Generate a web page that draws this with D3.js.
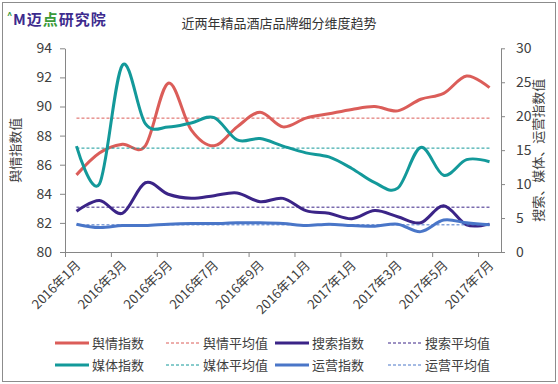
<!DOCTYPE html>
<html>
<head>
<meta charset="utf-8">
<script src="https://cdn.jsdelivr.net/npm/d3@7"></script>
<style>
  body { margin: 0; background: #fff; }
  svg text { font-family: "Noto Sans CJK SC", "Noto Sans", sans-serif; }
</style>
</head>
<body>
<div id="chart"></div>
<script>
// months on the category axis, label shown every other month
const months = [
  "2016年1月", "2016年2月", "2016年3月", "2016年4月", "2016年5月", "2016年6月",
  "2016年7月", "2016年8月", "2016年9月", "2016年10月", "2016年11月", "2016年12月",
  "2017年1月", "2017年2月", "2017年3月", "2017年4月", "2017年5月", "2017年6月",
  "2017年7月",
];

// 舆情 uses the left axis, the rest the right one
const yuqing = [85.3, 86.8, 87.4, 87.3, 91.6, 88.4, 87.3, 88.6, 89.6, 88.6, 89.2, 89.5, 89.8, 90.0, 89.7, 90.5, 90.9, 92.1, 91.3];
const sousuo = [6.0, 7.6, 5.7, 10.2, 8.5, 7.9, 8.3, 8.7, 7.4, 7.9, 6.1, 5.7, 4.9, 6.1, 5.2, 4.3, 6.8, 4.0, 4.1];
const meiti = [15.6, 10.0, 27.5, 18.9, 18.4, 19.0, 19.8, 16.5, 16.7, 15.6, 14.6, 14.0, 12.3, 10.2, 9.4, 15.4, 11.3, 13.6, 13.3];
const yunying = [4.1, 3.6, 3.9, 3.9, 4.1, 4.2, 4.2, 4.3, 4.3, 4.2, 3.9, 4.1, 3.9, 3.8, 4.1, 3.0, 4.7, 4.3, 4.0];

const avgYuqing = 89.2;
const avgSousuo = 6.6;
const avgMeiti = 15.3;
const avgYunying = 4.0;

const leftTicks = [80, 82, 84, 86, 88, 90, 92, 94];
const rightTicks = [0, 5, 10, 15, 20, 25, 30];

const W = 558, H = 384;
const plot = { left: 65, right: 501, top: 48.3, bottom: 252 };
const axisColor = "#868686";
const textColor = "#404040";

const svg = d3.select("#chart").append("svg")
  .attr("width", W).attr("height", H);

// outer frame
svg.append("rect")
  .attr("x", 2.5).attr("y", 2.5)
  .attr("width", W - 5).attr("height", H - 5)
  .attr("fill", "#fff").attr("stroke", "#8c8c8c");

// logo
const logo = svg.append("text")
  .attr("x", 13).attr("y", 25)
  .attr("font-size", 15).attr("font-weight", "bold")
  .attr("letter-spacing", 1)
  .attr("fill", "#3d2b8e");
logo.append("tspan").text("M迈");
logo.append("tspan").attr("fill", "#3a9a3a").text("点");
logo.append("tspan").text("研究院");
svg.append("text")
  .attr("x", 7).attr("y", 19)
  .attr("font-size", 9).attr("font-weight", "bold")
  .attr("fill", "#3a9a3a").text("^");

// title
svg.append("text")
  .attr("x", 279).attr("y", 28)
  .attr("text-anchor", "middle")
  .attr("font-size", 13).attr("fill", "#333")
  .text("近两年精品酒店品牌细分维度趋势");

const x = d3.scaleBand().domain(months).range([plot.left, plot.right]).padding(0);
const cx = (i) => x(months[i]) + x.bandwidth() / 2;

const yL = d3.scaleLinear().domain([80, 94]).range([plot.bottom, plot.top]);
const yR = d3.scaleLinear().domain([0, 30]).range([plot.bottom, plot.top]);

const styleAxis = (g) => {
  g.select(".domain").attr("stroke", axisColor);
  g.selectAll(".tick line").attr("stroke", axisColor);
  g.selectAll(".tick text")
    .attr("fill", textColor)
    .attr("font-size", 14)
    .attr("font-family", "'Noto Sans CJK SC', sans-serif");
};

// left axis
svg.append("g")
  .attr("transform", `translate(${plot.left},0)`)
  .call(d3.axisLeft(yL).tickValues(leftTicks).tickSize(5).tickSizeOuter(0).tickPadding(8))
  .call(styleAxis);

// right axis
svg.append("g")
  .attr("transform", `translate(${plot.right},0)`)
  .call(d3.axisRight(yR).tickValues(rightTicks).tickSize(4).tickSizeOuter(0).tickPadding(11))
  .call(styleAxis);

// bottom axis: ticks sit on the band edges every two months
const idx = d3.scaleLinear().domain([0, months.length]).range([plot.left, plot.right]);
svg.append("g")
  .attr("transform", `translate(0,${plot.bottom})`)
  .call(d3.axisBottom(idx)
    .tickValues(d3.range(0, months.length, 2))
    .tickSize(5).tickSizeOuter(0).tickFormat(""))
  .call(styleAxis);

svg.append("g")
  .selectAll("text")
  .data(months.filter((d, i) => i % 2 == 0))
  .join("text")
  .attr("text-anchor", "end")
  .attr("font-size", 13)
  .attr("fill", textColor)
  .attr("transform", (d) => `translate(${x(d) + x.bandwidth() / 2 + 5},${plot.bottom + 14}) rotate(-45)`)
  .text((d) => d);

// axis titles
svg.append("text")
  .attr("transform", `translate(20,${(plot.top + plot.bottom) / 2}) rotate(-90)`)
  .attr("text-anchor", "middle")
  .attr("font-size", 13).attr("fill", textColor)
  .text("舆情指数值");
svg.append("text")
  .attr("transform", `translate(543,${(plot.top + plot.bottom) / 2}) rotate(-90)`)
  .attr("text-anchor", "middle")
  .attr("font-size", 13).attr("fill", textColor)
  .text("搜索、媒体、运营指数值");

const series = [
  { name: "舆情指数", values: yuqing, y: yL, color: "#db5d59", avg: avgYuqing, avgName: "舆情平均值" },
  { name: "搜索指数", values: sousuo, y: yR, color: "#3b2487", avg: avgSousuo, avgName: "搜索平均值" },
  { name: "媒体指数", values: meiti, y: yR, color: "#13999a", avg: avgMeiti, avgName: "媒体平均值" },
  { name: "运营指数", values: yunying, y: yR, color: "#4a76c8", avg: avgYunying, avgName: "运营平均值" },
];

const lines = svg.append("g");
series.forEach((s) => {
  const line = d3.line()
    .x((d, i) => cx(i))
    .y((d) => s.y(d))
    .curve(d3.curveCardinal.tension(0));
  lines.append("path")
    .attr("d", line(s.values))
    .attr("fill", "none")
    .attr("stroke", s.color)
    .attr("stroke-width", 3)
    .attr("stroke-linejoin", "round");
  lines.append("line")
    .attr("x1", cx(0)).attr("x2", cx(months.length - 1))
    .attr("y1", s.y(s.avg)).attr("y2", s.y(s.avg))
    .attr("stroke", s.color)
    .attr("stroke-width", 1)
    .attr("stroke-dasharray", "3,2");
});

// legend: two rows, index line then average line
const legendCols = [55, 166, 275, 388];
const legendRows = [343, 365];
const legendItems = [
  { s: series[0], avg: false, col: 0, row: 0 },
  { s: series[0], avg: true, col: 1, row: 0 },
  { s: series[1], avg: false, col: 2, row: 0 },
  { s: series[1], avg: true, col: 3, row: 0 },
  { s: series[2], avg: false, col: 0, row: 1 },
  { s: series[2], avg: true, col: 1, row: 1 },
  { s: series[3], avg: false, col: 2, row: 1 },
  { s: series[3], avg: true, col: 3, row: 1 },
];
const legend = svg.append("g");
legendItems.forEach((d) => {
  const lx = legendCols[d.col], ly = legendRows[d.row];
  legend.append("line")
    .attr("x1", lx).attr("x2", lx + 34)
    .attr("y1", ly).attr("y2", ly)
    .attr("stroke", d.s.color)
    .attr("stroke-width", d.avg ? 1 : 3)
    .attr("stroke-dasharray", d.avg ? "3,2" : null);
  legend.append("text")
    .attr("x", lx + 37).attr("y", ly + 4.5)
    .attr("font-size", 13).attr("fill", textColor)
    .text(d.avg ? d.s.avgName : d.s.name);
});
</script>
</body>
</html>
